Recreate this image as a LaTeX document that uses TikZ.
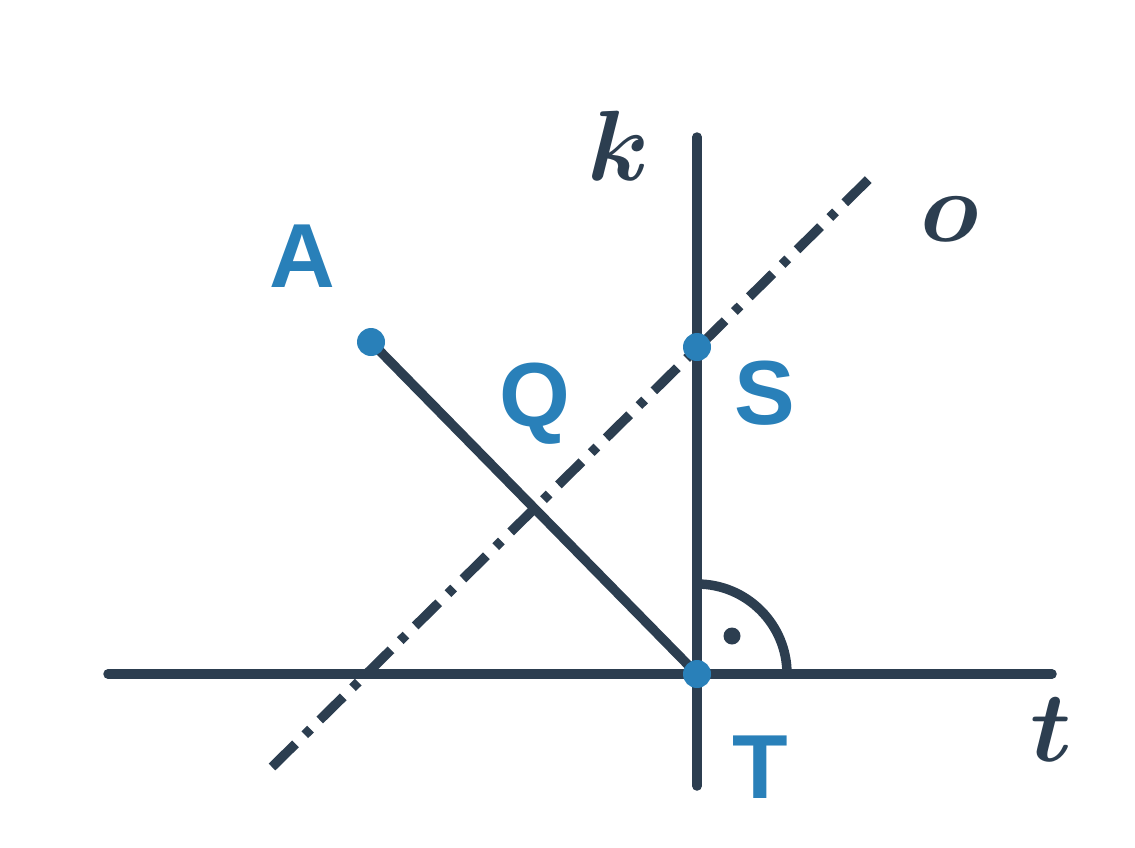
\RequirePackage{fix-cm}
\documentclass[tikz,border=0pt]{standalone}
\usepackage{fontspec}
\usepackage{amsmath,bm}
\newfontfamily\labelfont{Liberation Sans}
\definecolor{ink}{HTML}{2C3E50}
\definecolor{ptblue}{HTML}{2980B9}
\begin{document}
\begin{tikzpicture}[x=1pt,y=-1pt,
  line/.style={draw=ink,line width=9.5pt,line cap=round},
  dashdot/.style={draw=ink,line width=9.5pt,line cap=butt,dash pattern=on 33pt off 13pt on 8pt off 13pt},
  ptdot/.style={circle,fill=ptblue,inner sep=0pt,minimum size=28pt},
  plabel/.style={text=ptblue,inner sep=0pt,anchor=base,font=\labelfont\bfseries\fontsize{91}{91}\selectfont},
  mlabel/.style={text=ink,inner sep=0pt,anchor=base,font=\fontsize{100}{100}\selectfont}]
\useasboundingbox (0,0) rectangle (1135,847);
\coordinate (tL) at (108,674);
\coordinate (tR) at (1052,674);
\coordinate (kT) at (697,137);
\coordinate (kB) at (697,786);
\coordinate (oB) at (272,767);
\coordinate (oT) at (876,172);
\coordinate (A) at (371,342);
\coordinate (S) at (697,347);
\coordinate (T) at (697,674);
\coordinate (arcS) at (787,674);
\draw[line] (tL) -- (tR);
\draw[line] (kT) -- (kB);
\draw[dashdot] (oB) -- (oT);
\draw[line] (A) -- (T);
\draw[draw=ink,line width=9.5pt] (arcS) arc[start angle=0,end angle=90,radius=90pt];
\node[circle,fill=ink,inner sep=0pt,minimum size=17pt] (rdot) at (732,636) {};
\node[ptdot] (Ap) at (A) {};
\node[ptdot] (Sp) at (S) {};
\node[ptdot] (Tp) at (T) {};
\node[plabel] (lA) at (302.5,287) {A};
\node[plabel] (lQ) at (535,426) {Q};
\node[plabel] (lS) at (765,424) {S};
\node[plabel] (lT) at (760,798) {T};
\node[mlabel] (lk) at (619,180) {$\boldsymbol{k}$};
\node[mlabel] (lo) at (950,241) {$\boldsymbol{o}$};
\node[mlabel] (lt) at (1051,761) {$\boldsymbol{t}$};
\end{tikzpicture}
\end{document}
